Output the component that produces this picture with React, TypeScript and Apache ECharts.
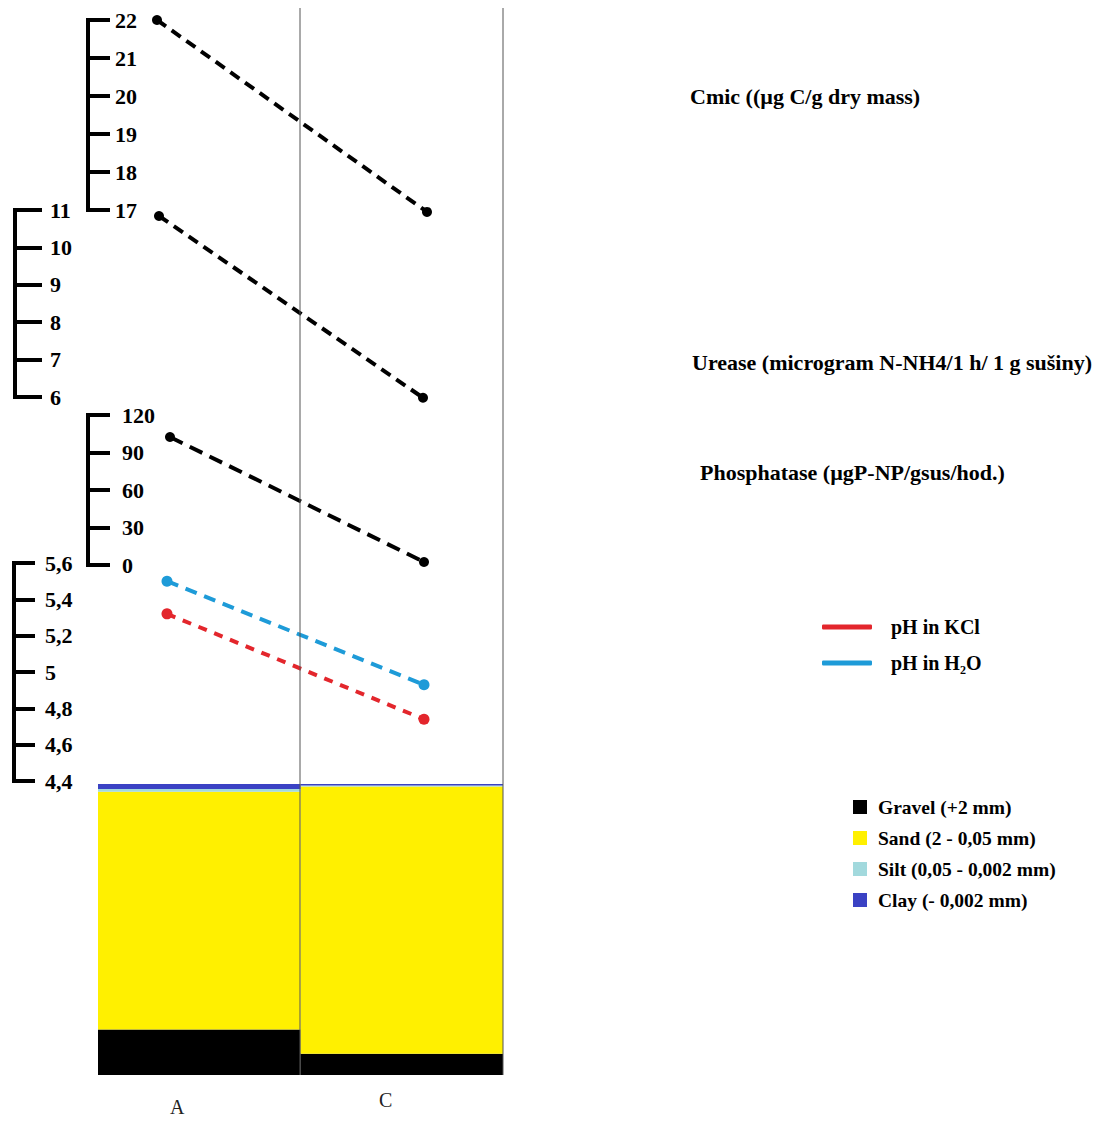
import React, { useEffect, useRef } from "react";
import * as echarts from "echarts";

// ---------- data ----------
const sites = ["A", "C"];

const cmicValues = [22, 16.95];
const ureaseValues = [10.84, 5.98];
const phosphataseValues = [102.4, 2.4];
const phKClValues = [5.32, 4.74];
const phH2OValues = [5.5, 4.93];

const gravelPct = [15.6, 7.3];
const sandPct = [81.7, 91.8];
const siltPct = [1.0, 0.35];
const clayPct = [1.7, 0.55];

const cmicRange = [17, 22, 1];
const ureaseRange = [6, 11, 1];
const phosphataseRange = [0, 120, 30];
const phRange = [4.4, 5.6, 0.2];

const cmicTitle = "Cmic ((µg C/g dry mass)";
const ureaseTitle = "Urease (microgram N-NH4/1 h/ 1 g sušiny)";
const phosphataseTitle = "Phosphatase (µgP-NP/gsus/hod.)";
const phKClName = "pH in KCl";
const phH2OName = "pH in H₂O";
const soilNames = ["Gravel (+2 mm)", "Sand (2 - 0,05 mm)", "Silt (0,05 - 0,002 mm)", "Clay (- 0,002 mm)"];

// ---------- styles ----------
const SERIF = "'Liberation Serif', 'Times New Roman', serif";
const RED = "#E3262C";
const BLUE = "#1E9BD8";
const SOIL_COLORS = ["#000000", "#FFF000", "#A2D9DD", "#3A42C4"];

export default function App() {
  const ref = useRef<HTMLDivElement>(null);

  useEffect(() => {
    if (!ref.current) return;
    const chart = echarts.init(ref.current, null, { renderer: "svg" });

    const grids = [
      { left: 157, top: 20, width: 270, height: 190, axisX: 88, tick: 22, margin: 27 },
      { left: 159, top: 210, width: 264, height: 187, axisX: 15, tick: 27, margin: 35 },
      { left: 170, top: 415, width: 254, height: 150, axisX: 88, tick: 22, margin: 34 },
      { left: 167, top: 563, width: 257, height: 218, axisX: 14, tick: 21, margin: 31 },
    ];
    const ranges = [cmicRange, ureaseRange, phosphataseRange, phRange];

    const gridOpts: any[] = grids.map((g) => ({
      left: g.left,
      top: g.top,
      width: g.width,
      height: g.height,
      containLabel: false,
    }));
    gridOpts.push({ left: 98, top: 784, width: 405, height: 291 });

    const xAxes: any[] = grids.map((_, i) => ({
      type: "category",
      gridIndex: i,
      data: sites,
      boundaryGap: false,
      show: false,
    }));
    xAxes.push({
      type: "category",
      gridIndex: 4,
      data: sites,
      axisLine: { show: false },
      axisTick: { show: false },
      axisLabel: {
        margin: 15,
        formatter: (v: string) => (v === "A" ? "{a|" + v + "}" : "{c|" + v + "}"),
        rich: {
          a: { fontFamily: SERIF, fontSize: 20, color: "#222", padding: [7, 44, 0, 0] },
          c: { fontFamily: SERIF, fontSize: 20, color: "#222", padding: [0, 32, 0, 0] },
        },
      },
    });

    const yAxes: any[] = grids.map((g, i) => ({
      type: "value",
      gridIndex: i,
      position: "left",
      offset: g.left - g.axisX,
      min: ranges[i][0],
      max: ranges[i][1],
      interval: ranges[i][2],
      splitLine: { show: false },
      axisLine: { show: true, lineStyle: { color: "#000", width: 4, cap: "square" } },
      axisTick: { show: true, inside: true, length: g.tick, lineStyle: { color: "#000", width: 4 } },
      axisLabel: {
        inside: true,
        margin: g.margin,
        color: "#000",
        fontFamily: SERIF,
        fontWeight: "bold",
        fontSize: 22,
        formatter: (v: number) => String(Math.round(v * 10) / 10).replace(".", ","),
      },
    }));
    yAxes.push({ type: "value", gridIndex: 4, min: 0, max: 100, show: false });

    const blackLine = (name: string, data: number[], idx: number, dash: number[]) => ({
      name,
      type: "line",
      xAxisIndex: idx,
      yAxisIndex: idx,
      data,
      clip: false,
      symbol: "circle",
      symbolSize: 10,
      itemStyle: { color: "#000" },
      lineStyle: { color: "#000", width: 4, type: dash },
      z: 5,
    });

    const series: any[] = [
      blackLine(cmicTitle, cmicValues, 0, [11, 7]),
      blackLine(ureaseTitle, ureaseValues, 1, [11, 7]),
      blackLine(phosphataseTitle, phosphataseValues, 2, [14, 8]),
      {
        name: phKClName,
        type: "line",
        xAxisIndex: 3,
        yAxisIndex: 3,
        data: phKClValues,
        clip: false,
        symbol: "circle",
        symbolSize: 11,
        itemStyle: { color: RED },
        lineStyle: { color: RED, width: 4, type: [9, 8] },
        z: 5,
      },
      {
        name: phH2OName,
        type: "line",
        xAxisIndex: 3,
        yAxisIndex: 3,
        data: phH2OValues,
        clip: false,
        symbol: "circle",
        symbolSize: 11,
        itemStyle: { color: BLUE },
        lineStyle: { color: BLUE, width: 4, type: [12, 8] },
        z: 5,
      },
    ];

    const soilData = [gravelPct, sandPct, siltPct, clayPct];
    soilNames.forEach((name, i) => {
      series.push({
        name,
        type: "bar",
        xAxisIndex: 4,
        yAxisIndex: 4,
        stack: "soil",
        data: soilData[i],
        barWidth: "100%",
        barCategoryGap: 0,
        itemStyle: { color: SOIL_COLORS[i] },
      });
    });

    const titleText = (text: string, x: number, y: number) => ({
      type: "text",
      x,
      y,
      style: {
        text,
        fill: "#000",
        font: "bold 22px " + SERIF,
        textVerticalAlign: "middle",
      },
    });

    const vLine = (x: number, y1: number, y2: number) => ({
      type: "line",
      shape: { x1: x, y1, x2: x, y2 },
      style: { stroke: "#555", lineWidth: 1 },
      z: 10,
    });

    chart.setOption({
      animation: false,
      backgroundColor: "#fff",
      grid: gridOpts,
      xAxis: xAxes,
      yAxis: yAxes,
      legend: [
        {
          data: [phKClName, phH2OName],
          orient: "vertical",
          left: 817,
          top: 611,
          icon: "roundRect",
          itemWidth: 50,
          itemHeight: 5,
          itemGap: 14,
          textStyle: { fontFamily: SERIF, fontWeight: "bold", fontSize: 20, lineHeight: 22, color: "#000", padding: [0, 0, 0, 14] },
        },
        {
          data: soilNames,
          orient: "vertical",
          left: 848,
          top: 792,
          icon: "rect",
          itemWidth: 14,
          itemHeight: 14,
          itemGap: 11,
          textStyle: { fontFamily: SERIF, fontWeight: "bold", fontSize: 19.5, color: "#000", lineHeight: 20, padding: [0, 0, 0, 6] },
        },
      ],
      graphic: [
        vLine(300, 8, 1075),
        vLine(503, 8, 1075),
        titleText(cmicTitle, 690, 96),
        titleText(ureaseTitle, 692, 362),
        titleText(phosphataseTitle, 700, 472),
      ],
      series,
    });

    return () => chart.dispose();
  }, []);

  return (
    <div
      ref={ref}
      style={{ position: "fixed", left: 0, top: 0, width: 1115, height: 1121, background: "#fff" }}
    />
  );
}
